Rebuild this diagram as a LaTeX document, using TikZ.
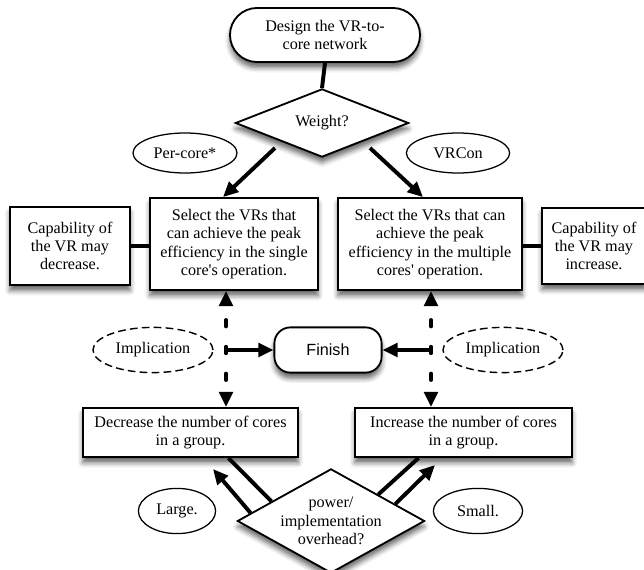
\documentclass[tikz,border=0pt]{standalone}
\usepackage{fontspec}
\setmainfont{Liberation Serif}
\newfontfamily\finishfont{Liberation Sans}
\usetikzlibrary{shapes.geometric,shapes.misc,arrows.meta,shadows.blur,calc}

\tikzset{
	base/.style={draw, fill=white, align=center, inner sep=0pt, font=\fontsize{11.5}{13.1}\selectfont},
	shade/.style={blur shadow={shadow xshift=0pt, shadow yshift=-4pt, shadow blur radius=3.5pt, shadow opacity=60}},
	box/.style={base, rectangle, line width=1.3pt, shade},
	pill/.style={base, rounded rectangle, line width=1.3pt, shade},
	rbox/.style={base, rectangle, rounded corners=0.4cm, line width=1.3pt, shade},
	choice/.style={base, diamond, line width=1.3pt, shade},
	tag/.style={base, ellipse, line width=0.9pt},
	dtag/.style={tag, line width=1pt, dash pattern=on 5.5pt off 3pt},
	link/.style={line width=2.8pt},
	arr/.style={link, -{Triangle[length=0.38cm, width=0.34cm]}},
	dlink/.style={link, line cap=round, dash pattern=on 4.5pt off 14.5pt, dash phase=2.2pt, -{Triangle[length=0.38cm, width=0.34cm, line cap=butt]}}
}

\begin{document}
\begin{tikzpicture}[x=0.025cm, y=-0.025cm]
	\useasboundingbox (0,0) rectangle (644,570);
	% start and first choice
	\node[pill, minimum width=4.75cm, minimum height=1.35cm] (design) at (325,35) {Design the VR-to-\\core network};
	\node[choice, minimum width=4.33cm, minimum height=1.58cm] (weight) at (322,123) {Weight?};
	\draw[link] (design.south) -- (weight.north);
	\node[tag, minimum width=2.6cm, minimum height=1cm] (percore) at (185,153) {Per-core*};
	\node[tag, minimum width=2.58cm, minimum height=1cm] (vrcon) at (458,153) {VRCon};
	% selection boxes
	\node[box, minimum width=4.2cm, minimum height=2.3cm] (lsel) at (234,244) {Select the VRs that\\can achieve the peak\\efficiency in the single\\core\textquotesingle s operation.};
	\node[box, minimum width=4.6cm, minimum height=2.3cm] (rsel) at (430,244) {Select the VRs that can\\achieve the peak\\efficiency in the multiple\\cores\textquotesingle\ operation.};
	\node[box, minimum width=3cm, minimum height=1.95cm] (lcap) at (70,246) {Capability of\\the VR may\\decrease.};
	\node[box, minimum width=2.6cm, minimum height=1.9cm] (rcap) at (594,246) {Capability of\\the VR may\\increase.};
	\draw[link] (lcap.east) -- (lcap.east -| lsel.west);
	\draw[link] (rcap.west) -- (rcap.west -| rsel.east);
	\coordinate (wl) at (275,148);
	\coordinate (wr) at (370,148);
	\draw[arr] (wl) -- ($(lsel.north)+(-11,0)$);
	\draw[arr] (wr) -- ($(rsel.north)+(-7,0)$);
	% finish and implications
	\node[rbox, minimum width=2.68cm, minimum height=1.13cm] (finish) at (328,350) {\finishfont Finish};
	\node[dtag, minimum width=3cm, minimum height=1.13cm] (limpl) at (153,350) {Implication};
	\node[dtag, minimum width=3cm, minimum height=1.13cm] (rimpl) at (503,350) {Implication};
	% core count boxes
	\node[box, minimum width=5.38cm, minimum height=1.23cm] (ldec) at (190.5,432.5) {Decrease the number of cores\\in a group.};
	\node[box, minimum width=5.43cm, minimum height=1.23cm] (rinc) at (463.5,432.5) {Increase the number of cores\\in a group.};
	\coordinate (lmid) at (226,350);
	\coordinate (rmid) at (431,350);
	\draw[dlink] (lmid) -- (lmid |- lsel.south);
	\draw[dlink] (lmid) -- (lmid |- ldec.north);
	\draw[dlink] (rmid) -- (rmid |- rsel.south);
	\draw[dlink] (rmid) -- (rmid |- rinc.north);
	\draw[arr] (lmid) -- (finish.west);
	\draw[arr] (rmid) -- (finish.east);
	% overhead choice
	\node[choice, inner sep=-8pt, minimum width=4.68cm, minimum height=2.28cm] (ovh) at (331,521) {power/\\implementation\\overhead?};
	\node[tag, minimum width=1.93cm, minimum height=1.13cm] (large) at (177,511) {Large.};
	\node[tag, minimum width=2.23cm, minimum height=1.13cm] (small) at (478,511) {Small.};
	\coordinate (ltip) at (213,469);
	\coordinate (rtip) at (435,465);
	\draw[link] ($(ovh.west)!0.37!(ovh.north)$) -- ($(ldec.south)+(38,0)$);
	\draw[arr] ($(ovh.west)!0.15!(ovh.north)$) -- (ltip);
	\draw[link] ($(ovh.north)!0.5!(ovh.east)$) -- ($(rinc.south)+(-45,0)$);
	\draw[arr] ($(ovh.north)!0.68!(ovh.east)$) -- (rtip);
\end{tikzpicture}
\end{document}
